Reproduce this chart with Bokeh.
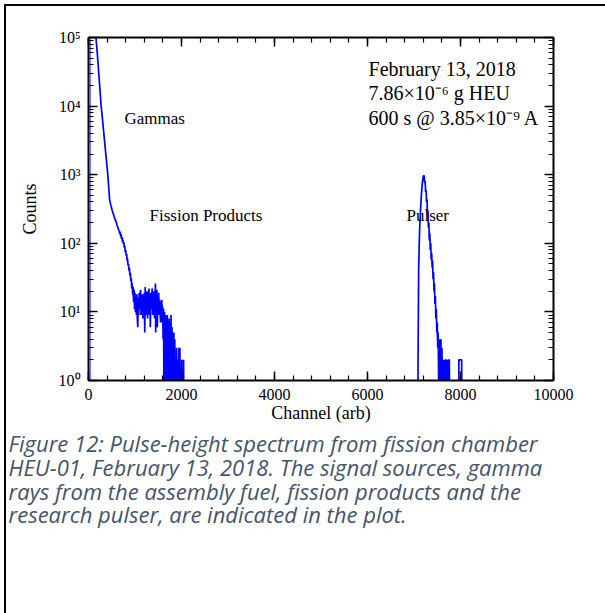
from bokeh.plotting import figure
from bokeh.models import (LinearAxis, LogAxis, SingleIntervalTicker, LogTicker,
                          Label, Title, Range1d, ColumnDataSource)
from bokeh.embed import file_html
from bokeh.resources import INLINE

# ---------------- data ----------------
threshold_channels = [38, 40]
threshold_counts = [0, 400000]

gamma_channels = [150, 180, 210, 240, 272, 300, 330, 365, 390, 415, 435, 455, 480, 510,
                  540, 570, 600, 615, 630, 645, 660, 670, 680, 690, 700, 710, 720, 730,
                  740, 750, 760, 770, 780, 790, 800, 810, 820, 830, 840, 850, 860, 870,
                  880, 890, 900, 910, 920, 930, 940, 950, 960, 970, 980, 990]
gamma_counts = [120000, 70000, 38000, 20000, 10000, 6500, 4000, 2240, 1500, 1000, 650, 430,
                360, 300, 260, 225, 200, 182, 172, 160, 150, 138, 148, 126, 136, 116, 124,
                106, 113, 98, 104, 86, 92, 74, 80, 66, 70, 56, 60, 48, 50, 40, 44, 34, 37,
                28, 31, 22, 26, 18, 23, 14, 21, 11]

fp_channels = [1000, 1010, 1020, 1030, 1040, 1050, 1060, 1070, 1080, 1090, 1100, 1110,
               1120, 1130, 1140, 1150, 1160, 1170, 1180, 1190, 1200, 1210, 1220, 1230,
               1240, 1250, 1260, 1270, 1280, 1290, 1300, 1310, 1320, 1330, 1340, 1350,
               1360, 1370, 1380, 1390, 1400, 1410, 1420, 1430, 1440, 1445, 1450, 1460,
               1470, 1480, 1490, 1500, 1510, 1520, 1530, 1540, 1550,
               1555, 1565, 1575, 1585, 1595, 1605, 1615, 1625, 1635, 1645, 1655, 1665,
               1675, 1685, 1695, 1705, 1715, 1725, 1735, 1745, 1755, 1765, 1775, 1785,
               1795, 1805, 1815, 1825, 1835, 1845, 1855, 1865, 1875, 1885, 1895, 1905,
               1915, 1925, 1935, 1945, 1955, 1965, 1975, 1985, 1995, 2005, 2015, 2025,
               2035, 2045, 2055]
fp_counts = [19, 10, 17, 9, 18, 8, 6, 16, 9, 19, 11, 14,
             21, 9, 17, 10, 18, 8, 15, 11, 19, 5, 23, 9,
             17, 12, 20, 8, 16, 10, 22, 9, 17, 6, 19, 11,
             16, 22, 9, 18, 10, 20, 8, 17, 26, 5, 18, 10,
             21, 6, 17, 11, 19, 9, 15, 10, 7,
             14, 7, 15, 9, 12, 4, 11, 0, 10, 3, 9, 0,
             8, 2, 9, 0, 7, 3, 8, 0, 7, 1, 9, 0,
             6, 0, 5, 2, 5, 0, 4, 0, 2, 0, 3, 1,
             0, 2, 0, 3, 0, 3, 0, 1, 0, 2, 0, 1,
             0, 2, 0]

pulser_channels = [7070, 7080, 7090, 7100, 7110, 7120, 7130, 7140, 7150, 7160, 7170, 7180,
                   7190, 7200, 7210, 7220, 7230, 7240, 7250, 7260, 7270, 7280, 7290, 7300,
                   7310, 7320, 7330, 7340, 7350, 7360, 7370, 7380, 7390, 7400, 7410, 7420,
                   7430, 7440, 7450, 7460, 7470, 7480, 7490, 7500, 7510, 7520, 7530, 7540,
                   7550, 7560, 7570, 7580, 7590, 7600, 7610, 7620, 7630, 7640, 7650, 7660,
                   7670, 7680, 7690, 7700, 7710, 7720, 7730, 7740, 7750, 7760, 7770, 7780,
                   7960, 7965, 8025, 8030, 8040]
pulser_counts = [0, 0, 4, 40, 85, 150, 220, 300, 400, 520, 640, 760,
                 870, 940, 975, 940, 760, 800, 560, 600, 400, 440, 260, 300,
                 170, 200, 110, 140, 80, 100, 58, 72, 44, 56, 30, 38,
                 20, 26, 13, 17, 8, 11, 5, 7, 3, 5, 1, 4,
                 0, 4, 2, 4, 0, 3, 1, 2, 0, 2, 1, 2,
                 0, 2, 2, 0, 2, 1, 2, 0, 2, 2, 0, 0,
                 0, 2, 2, 0, 0]

x_ticks_interval = 2000
y_tick_labels = {1: "10⁰", 10: "10¹", 100: "10²", 1000: "10³", 10000: "10⁴", 100000: "10⁵"}

caption_lines = ["Figure 12: Pulse-height spectrum from fission chamber",
                 "HEU-01, February 13, 2018. The signal sources, gamma",
                 "rays from the assembly fuel, fission products and the",
                 "research pulser, are indicated in the plot."]
info_lines = ["February 13, 2018", "7.86×10⁻⁶ g HEU", "600 s @ 3.85×10⁻⁹ A"]

# ---------------- figure ----------------
W, H = 605, 613
FL, FR, FT, FB = 88, 553, 37, 380
SERIF = "Liberation Serif"

p = figure(width=W, height=H, output_backend="svg", toolbar_location=None,
           y_axis_type="log", x_range=Range1d(0, 10000), y_range=Range1d(1, 100000),
           min_border_left=FL, min_border_right=W - FR,
           min_border_top=FT, min_border_bottom=H - FB)
# page frame (top and left edges), painted behind a transparent canvas border
p.styles = {"background": ("linear-gradient(#000,#000) 4px 4px / 2px 100% no-repeat, "
                           "linear-gradient(#000,#000) 4px 4px / 100% 2px no-repeat, #ffffff")}
p.border_fill_color = None
p.outline_line_color = None
p.xgrid.visible = False
p.ygrid.visible = False
p.background_fill_color = "white"

floor = 0.1
spec_ch = gamma_channels + fp_channels + pulser_channels
spec_ct = [c if c > 0 else floor for c in gamma_counts + fp_counts + pulser_counts]
src = ColumnDataSource(dict(x=spec_ch, y=spec_ct))
thr = ColumnDataSource(dict(x=threshold_channels,
                            y=[c if c > 0 else floor for c in threshold_counts]))

p.line("x", "y", source=thr, line_color="#7a7aff", line_width=1.5)
p.line("x", "y", source=src, line_color="#0000ff", line_width=1.7)

def style_axis(ax, labels=True):
    ax.axis_line_width = 2
    ax.axis_line_color = "black"
    ax.major_tick_in = 9
    ax.major_tick_out = 0
    ax.minor_tick_in = 5
    ax.minor_tick_out = 0
    ax.major_tick_line_width = 1.5
    ax.minor_tick_line_width = 1.2
    ax.major_tick_line_color = "black"
    ax.minor_tick_line_color = "black"
    ax.major_label_text_font = SERIF
    ax.major_label_text_font_size = "16px" if labels else "1px"
    ax.major_label_text_color = "black" if labels else None
    ax.axis_label_text_font = SERIF
    ax.axis_label_text_font_size = "18px"
    ax.axis_label_text_font_style = "normal"
    ax.axis_label_text_color = "black"

xt = SingleIntervalTicker(interval=x_ticks_interval, num_minor_ticks=5)
p.xaxis.ticker = xt
p.xaxis.axis_label = "Channel (arb)"
style_axis(p.xaxis[0])
p.xaxis.major_label_standoff = 8
p.xaxis.axis_label_standoff = 0

p.yaxis.ticker = LogTicker(num_minor_ticks=10)
p.yaxis.axis_label = "Counts"
p.yaxis.major_label_overrides = y_tick_labels
style_axis(p.yaxis[0])
p.yaxis.major_label_standoff = 8
p.yaxis.axis_label_standoff = 16

top_ax = LinearAxis(ticker=SingleIntervalTicker(interval=x_ticks_interval, num_minor_ticks=5))
style_axis(top_ax, labels=False)
p.add_layout(top_ax, "above")
right_ax = LogAxis(ticker=LogTicker(num_minor_ticks=10))
style_axis(right_ax, labels=False)
p.add_layout(right_ax, "right")

# annotations in the plot
def add_text(x, y, t, size):
    p.add_layout(Label(x=x, y=y, text=t, text_font=SERIF, text_font_size=size,
                       text_baseline="middle", text_align="left", text_color="black"))

add_text(774, 6600, "Gammas", "17px")
add_text(1312, 254, "Fission Products", "17px")
add_text(6839, 254, "Pulser", "17px")
for t, yy in zip(info_lines, [35300, 15270, 6820]):
    add_text(6022, yy, t, "20px")

# caption: one multi-line title below the x axis
p.add_layout(Title(text="\n".join(caption_lines), align="left", offset=8 - FL,
                   text_font="Open Sans", text_font_style="italic",
                   text_font_size="22px", text_color="#44546a",
                   text_line_height=0.79, standoff=2), "below")

html = file_html(p, INLINE)
html = html.replace("</head>",
                    "<style>html, body {margin: 0; padding: 0; overflow: hidden;}</style></head>", 1)
open("out.html", "w").write(html)
